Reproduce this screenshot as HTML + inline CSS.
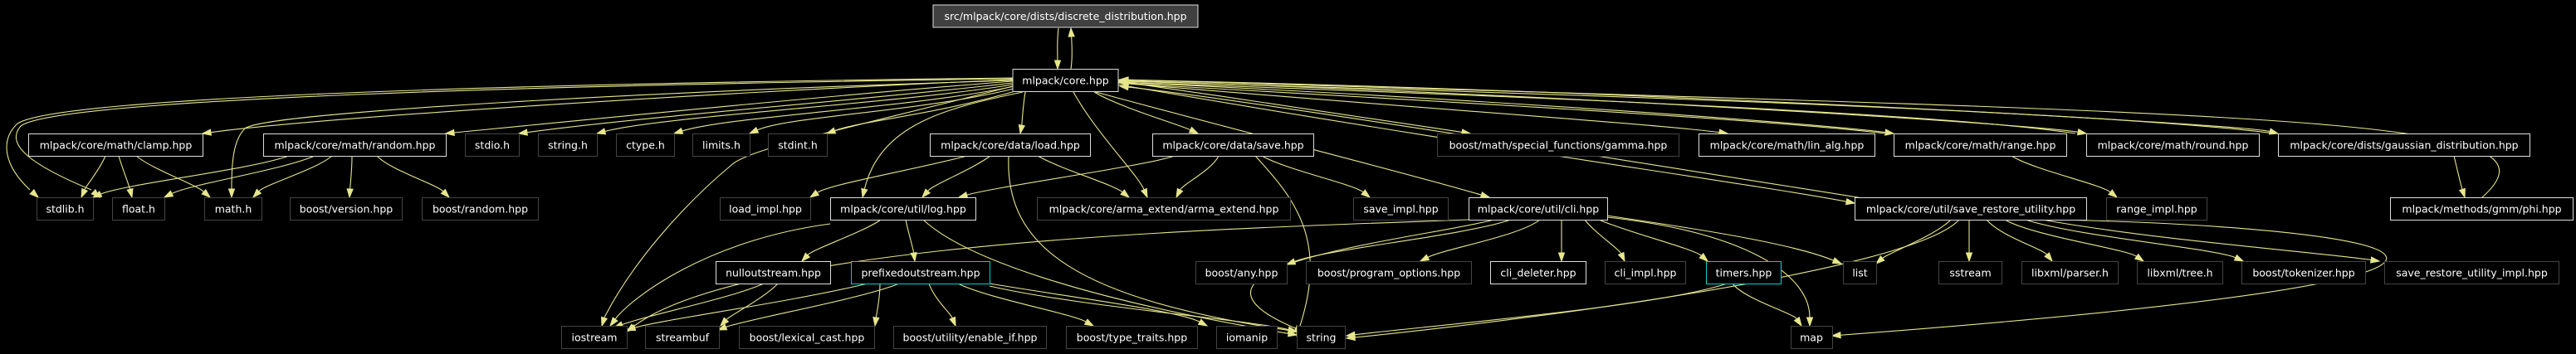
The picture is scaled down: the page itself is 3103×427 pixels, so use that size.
<!DOCTYPE html>
<html><head><meta charset="utf-8"><style>
html,body{margin:0;padding:0;background:#000;width:3103px;height:427px;overflow:hidden}
svg{display:block}
text{font-family:"DejaVu Sans","Liberation Sans",sans-serif;font-size:12.5px;fill:#fff}
</style></head><body>
<svg id="g" width="3103" height="427" xmlns="http://www.w3.org/2000/svg">
<g id="edges" fill="none" stroke="#e6e68c" stroke-width="1.1"></g>
<g id="arrows" fill="#e6e68c" stroke="#e6e68c" stroke-width="1"></g>
<g id="nodes">
<rect x="1124" y="6" width="319" height="27" fill="#404040" stroke="#ddd"/><text x="1283.5" y="24" text-anchor="middle">src/mlpack/core/dists/discrete_distribution.hpp</text>
<rect x="1220" y="83.5" width="127" height="27" fill="#000" stroke="#ddd"/><text x="1283.5" y="101.5" text-anchor="middle">mlpack/core.hpp</text>

<rect x="34.5" y="161.5" width="210" height="27" fill="#000" stroke="#ddd"/><text x="139.5" y="179.5" text-anchor="middle">mlpack/core/math/clamp.hpp</text>
<rect x="317.5" y="161.5" width="220" height="27" fill="#000" stroke="#ddd"/><text x="427.5" y="179.5" text-anchor="middle">mlpack/core/math/random.hpp</text>
<rect x="560.5" y="161.5" width="65" height="27" fill="#000" stroke="#444"/><text x="593" y="179.5" text-anchor="middle">stdio.h</text>
<rect x="648.5" y="161.5" width="71" height="27" fill="#000" stroke="#444"/><text x="684" y="179.5" text-anchor="middle">string.h</text>
<rect x="742.5" y="161.5" width="70" height="27" fill="#000" stroke="#444"/><text x="777.5" y="179.5" text-anchor="middle">ctype.h</text>
<rect x="834.5" y="161.5" width="69" height="27" fill="#000" stroke="#444"/><text x="869" y="179.5" text-anchor="middle">limits.h</text>
<rect x="925.5" y="161.5" width="71" height="27" fill="#000" stroke="#444"/><text x="961" y="179.5" text-anchor="middle">stdint.h</text>
<rect x="1120.5" y="161.5" width="193" height="27" fill="#000" stroke="#ddd"/><text x="1217" y="179.5" text-anchor="middle">mlpack/core/data/load.hpp</text>
<rect x="1388.5" y="161.5" width="194" height="27" fill="#000" stroke="#ddd"/><text x="1485.5" y="179.5" text-anchor="middle">mlpack/core/data/save.hpp</text>
<rect x="1731.5" y="161.5" width="291" height="27" fill="#000" stroke="#444"/><text x="1877" y="179.5" text-anchor="middle">boost/math/special_functions/gamma.hpp</text>
<rect x="2046.5" y="161.5" width="212" height="27" fill="#000" stroke="#ddd"/><text x="2152.5" y="179.5" text-anchor="middle">mlpack/core/math/lin_alg.hpp</text>
<rect x="2281.5" y="161.5" width="208" height="27" fill="#000" stroke="#ddd"/><text x="2385.5" y="179.5" text-anchor="middle">mlpack/core/math/range.hpp</text>
<rect x="2513.5" y="161.5" width="208" height="27" fill="#000" stroke="#ddd"/><text x="2617.5" y="179.5" text-anchor="middle">mlpack/core/math/round.hpp</text>
<rect x="2744.5" y="161.5" width="303" height="27" fill="#000" stroke="#ddd"/><text x="2896" y="179.5" text-anchor="middle">mlpack/core/dists/gaussian_distribution.hpp</text>

<rect x="44.5" y="238.5" width="68" height="27" fill="#000" stroke="#444"/><text x="78.5" y="256.5" text-anchor="middle">stdlib.h</text>
<rect x="135.5" y="238.5" width="63" height="27" fill="#000" stroke="#444"/><text x="167" y="256.5" text-anchor="middle">float.h</text>
<rect x="246.5" y="238.5" width="69" height="27" fill="#000" stroke="#444"/><text x="281" y="256.5" text-anchor="middle">math.h</text>
<rect x="349.5" y="238.5" width="135" height="27" fill="#000" stroke="#444"/><text x="417" y="256.5" text-anchor="middle">boost/version.hpp</text>
<rect x="508.5" y="238.5" width="140" height="27" fill="#000" stroke="#444"/><text x="578.5" y="256.5" text-anchor="middle">boost/random.hpp</text>
<rect x="867.5" y="238.5" width="109" height="27" fill="#000" stroke="#444"/><text x="922" y="256.5" text-anchor="middle">load_impl.hpp</text>
<rect x="1000.5" y="238.5" width="175" height="27" fill="#000" stroke="#ddd"/><text x="1088" y="256.5" text-anchor="middle">mlpack/core/util/log.hpp</text>
<rect x="1249.5" y="238.5" width="305" height="27" fill="#000" stroke="#444"/><text x="1402" y="256.5" text-anchor="middle">mlpack/core/arma_extend/arma_extend.hpp</text>
<rect x="1630.5" y="238.5" width="114" height="27" fill="#000" stroke="#444"/><text x="1687.5" y="256.5" text-anchor="middle">save_impl.hpp</text>
<rect x="1769.5" y="238.5" width="167" height="27" fill="#000" stroke="#ddd"/><text x="1853" y="256.5" text-anchor="middle">mlpack/core/util/cli.hpp</text>
<rect x="2234.5" y="238.5" width="279" height="27" fill="#000" stroke="#ddd"/><text x="2374" y="256.5" text-anchor="middle">mlpack/core/util/save_restore_utility.hpp</text>
<rect x="2537.5" y="238.5" width="121" height="27" fill="#000" stroke="#444"/><text x="2598" y="256.5" text-anchor="middle">range_impl.hpp</text>
<rect x="2879.5" y="238.5" width="220" height="27" fill="#000" stroke="#ddd"/><text x="2989.5" y="256.5" text-anchor="middle">mlpack/methods/gmm/phi.hpp</text>

<rect x="862.5" y="315.5" width="138" height="27" fill="#000" stroke="#ddd"/><text x="931.5" y="333.5" text-anchor="middle">nulloutstream.hpp</text>
<rect x="1025.5" y="315.5" width="167" height="27" fill="#000" stroke="#0cc"/><text x="1109" y="333.5" text-anchor="middle">prefixedoutstream.hpp</text>
<rect x="1440.5" y="315.5" width="110" height="27" fill="#000" stroke="#444"/><text x="1495.5" y="333.5" text-anchor="middle">boost/any.hpp</text>
<rect x="1573.5" y="315.5" width="199" height="27" fill="#000" stroke="#444"/><text x="1673" y="333.5" text-anchor="middle">boost/program_options.hpp</text>
<rect x="1795.5" y="315.5" width="115" height="27" fill="#000" stroke="#ddd"/><text x="1853" y="333.5" text-anchor="middle">cli_deleter.hpp</text>
<rect x="1933.5" y="315.5" width="97" height="27" fill="#000" stroke="#444"/><text x="1982" y="333.5" text-anchor="middle">cli_impl.hpp</text>
<rect x="2055.5" y="315.5" width="90" height="27" fill="#000" stroke="#0cc"/><text x="2100.5" y="333.5" text-anchor="middle">timers.hpp</text>
<rect x="2220.5" y="315.5" width="40" height="27" fill="#000" stroke="#444"/><text x="2240.5" y="333.5" text-anchor="middle">list</text>
<rect x="2335.5" y="315.5" width="76" height="27" fill="#000" stroke="#444"/><text x="2373.5" y="333.5" text-anchor="middle">sstream</text>
<rect x="2435.5" y="315.5" width="116" height="27" fill="#000" stroke="#444"/><text x="2493.5" y="333.5" text-anchor="middle">libxml/parser.h</text>
<rect x="2574.5" y="315.5" width="103" height="27" fill="#000" stroke="#444"/><text x="2626" y="333.5" text-anchor="middle">libxml/tree.h</text>
<rect x="2700.5" y="315.5" width="149" height="27" fill="#000" stroke="#444"/><text x="2775" y="333.5" text-anchor="middle">boost/tokenizer.hpp</text>
<rect x="2872.5" y="315.5" width="210" height="27" fill="#000" stroke="#444"/><text x="2977.5" y="333.5" text-anchor="middle">save_restore_utility_impl.hpp</text>

<rect x="676.5" y="393.5" width="79" height="27" fill="#000" stroke="#444"/><text x="716" y="411.5" text-anchor="middle">iostream</text>
<rect x="777.5" y="393.5" width="89" height="27" fill="#000" stroke="#444"/><text x="822" y="411.5" text-anchor="middle">streambuf</text>
<rect x="890.5" y="393.5" width="163" height="27" fill="#000" stroke="#444"/><text x="972" y="411.5" text-anchor="middle">boost/lexical_cast.hpp</text>
<rect x="1076.5" y="393.5" width="184" height="27" fill="#000" stroke="#444"/><text x="1168.5" y="411.5" text-anchor="middle">boost/utility/enable_if.hpp</text>
<rect x="1284.5" y="393.5" width="158" height="27" fill="#000" stroke="#444"/><text x="1363.5" y="411.5" text-anchor="middle">boost/type_traits.hpp</text>
<rect x="1465.5" y="393.5" width="73" height="27" fill="#000" stroke="#444"/><text x="1502" y="411.5" text-anchor="middle">iomanip</text>
<rect x="1562.5" y="393.5" width="58" height="27" fill="#000" stroke="#444"/><text x="1591.5" y="411.5" text-anchor="middle">string</text>
<rect x="2157.5" y="393.5" width="50" height="27" fill="#000" stroke="#444"/><text x="2182" y="411.5" text-anchor="middle">map</text>
</g>
</svg>
<script>
var E=document.getElementById('edges'),A=document.getElementById('arrows'),NS='http://www.w3.org/2000/svg';
function e(x1,y1,x2,y2,c1x,c1y,c2x,c2y){
 if(c1x===undefined){var m=(y1+y2)/2;c1x=x1+(x2-x1)*0.1;c1y=m;c2x=x2-(x2-x1)*0.1;c2y=m;}
 var dx=x2-c2x,dy=y2-c2y,L=Math.hypot(dx,dy)||1;dx/=L;dy/=L;
 var bx=x2-dx*10,by=y2-dy*10;
 var p=document.createElementNS(NS,'path');
 p.setAttribute('d','M'+x1+','+y1+' C'+c1x+','+c1y+' '+c2x+','+c2y+' '+bx+','+by);E.appendChild(p);
 var a=document.createElementNS(NS,'polygon');
 a.setAttribute('points',x2+','+y2+' '+(bx-dy*3.5)+','+(by+dx*3.5)+' '+(bx+dy*3.5)+','+(by-dx*3.5));A.appendChild(a);
}
function p2(d){var p=document.createElementNS(NS,'path');p.setAttribute('d',d);E.appendChild(p);}
function ah(x2,y2,fx,fy){var dx=x2-fx,dy=y2-fy,L=Math.hypot(dx,dy);dx/=L;dy/=L;var bx=x2-dx*10,by=y2-dy*10;
 var a=document.createElementNS(NS,'polygon');a.setAttribute('points',x2+','+y2+' '+(bx-dy*3.5)+','+(by+dx*3.5)+' '+(bx+dy*3.5)+','+(by-dx*3.5));A.appendChild(a);}
// top <-> core
e(1275,34,1274,83,1273,50,1274,70);
e(1290,83,1290,34,1292,70,1291,50);
// core -> left row2
e(1220,96,244,161,900,110,400,140);
e(1220,98,537,161,1000,115,700,145);
e(1220,100,625,161,1050,120,780,140);
e(1220,102,719,161,1080,125,800,140);
e(1222,104,812,161,1100,130,880,140);
e(1225,106,903,161,1110,135,950,140);
e(1230,108,996,161,1120,140,1040,145);
// far-left curves to stdlib / float / math
p2('M1220,94 C700,100 60,115 20,150 C0,170 5,200 36,229');ah(46,238,36,229);
p2('M1220,95 C700,102 70,118 25,152 C5,175 40,200 110,229');ah(120,238,110,229);
p2('M1220,97 C800,110 320,135 295,155 C280,170 279,200 279,228');ah(279,238,279,228);
e(1232,111,1039,238,1140,130,1060,150);
e(1235,111,1229,161,1232,130,1231,150);
e(1293,111,1382,238,1320,160,1370,210);
e(1318,111,1443,161,1350,130,1420,150);
p2('M1220,104 C1000,160 900,180 880,200 C820,250 760,320 728,383');ah(725,393,728,383);
// core -> right row2/row3
e(1347,98,1771,161,1500,120,1700,150);
e(1347,100,2081,161,1700,130,2000,150);
e(1347,99,2281,161,1800,120,2200,150);
e(1347,97,2513,161,1900,115,2450,150);
e(1347,96,2744,161,2000,110,2700,150);
e(1347,102,2234,245,1800,180,2100,220);
e(1320,111,1794,238,1500,160,1700,210);
// back edges into core
e(2270,161,1349,100,2100,140,1500,110);
e(2500,161,1349,99,2300,130,1500,105);
e(2740,161,1349,98,2500,130,1600,105);
e(2250,240,1349,104,2000,200,1500,120);
e(2990,238,1349,96,3100,140,2800,140);
e(2956,188,2969,238,2960,205,2964,222);
// clamp / random
e(127,188,98,238,120,205,105,222);
e(143,188,159,238,148,205,155,222);
e(164,188,253,238,185,205,235,222);
e(348,188,112,238,300,205,150,222);
e(379,188,198,238,340,205,230,222);
e(400,188,305,238,380,205,320,222);
e(424,188,421,238,424,205,422,222);
e(454,188,541,238,470,205,525,222);
// load
e(1165,188,976,238,1100,205,1000,222);
e(1193,188,1111,238,1170,205,1125,222);
e(1250,188,1360,238,1280,205,1340,222);
e(1215,188,1562,400,1210,300,1300,360);
// save
e(1415,188,1155,238,1380,200,1200,225);
e(1468,188,1417,238,1460,205,1425,222);
e(1520,188,1650,238,1550,205,1630,222);
e(1512,188,1562,405,1560,240,1600,290);
// range
e(2423,188,2550,238,2450,205,2530,222);
// log
e(1061,265,966,315,1040,280,980,300);
e(1091,265,1102,315,1094,280,1100,300);
e(1112,265,1562,404,1160,310,1300,360);
e(1000,270,735,393,850,290,760,360);
// nullout
e(920,342,740,395,880,360,780,380);
e(937,342,868,393,920,360,880,380);
// prefixed
e(1045,342,755,398,950,365,800,385);
e(1083,342,865,398,1040,360,900,385);
e(1060,342,1054,393,1060,360,1056,378);
e(1119,342,1151,393,1125,360,1145,378);
e(1154,342,1317,393,1190,360,1290,378);
e(1192,342,1454,393,1300,360,1420,375);
e(1192,345,1562,400,1300,370,1500,385);
// cli
e(1769,265,755,400,1500,275,900,290);
e(1820,265,1550,319,1760,285,1600,300);
e(1855,265,1711,315,1830,285,1740,300);
e(1881,265,1881,315,1881,280,1881,300);
e(1909,265,1957,315,1920,280,1950,300);
e(1926,265,2057,315,1960,280,2040,300);
e(1936,260,2218,318,2000,270,2150,290);
e(1936,262,2180,393,2100,280,2180,330);
e(1800,265,1570,400,1700,290,1380,320);
// timers
e(2080,342,1622,405,2000,370,1700,395);
e(2087,342,2170,393,2100,360,2160,378);
// save_restore
e(2350,265,2260,318,2330,285,2275,305);
e(2372,265,2372,315,2372,280,2372,300);
e(2393,265,2472,315,2410,285,2460,300);
e(2415,265,2582,315,2450,285,2560,300);
e(2440,265,2702,315,2500,285,2670,300);
e(2460,265,2866,315,2600,290,2800,305);
e(2480,265,2207,405,2900,275,3200,330);
e(2360,265,1622,408,2300,330,1800,390);
</script>
</body></html>
